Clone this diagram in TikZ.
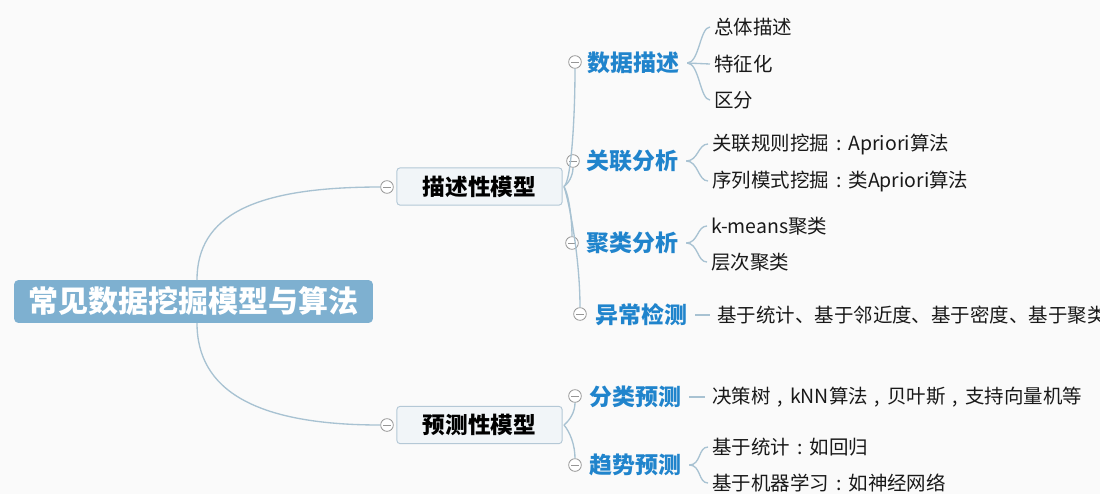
\documentclass[tikz,border=0pt]{standalone}
\usepackage{fontspec}
\setmainfont{Noto Sans CJK SC}
\definecolor{bgC}{RGB}{250,250,250}
\definecolor{rootC}{RGB}{126,176,208}
\definecolor{boxF}{RGB}{241,245,248}
\definecolor{boxB}{RGB}{180,200,214}
\definecolor{topicC}{RGB}{32,132,204}
\definecolor{leafC}{RGB}{25,25,25}
\definecolor{lineC}{RGB}{168,194,210}
\definecolor{foldC}{RGB}{150,150,150}
\newcommand\fcolon{\makebox[1em]{:}}
\newcommand\fcomma{\makebox[1em]{,}}
\begin{document}
\begin{tikzpicture}[x=0.75pt,y=-0.75pt,
  root/.style={fill=rootC, rounded corners=3pt, text=white, font=\bfseries\fontsize{22.5pt}{26pt}\selectfont, minimum width=269pt, minimum height=32pt, inner sep=0pt},
  mbox/.style={draw=boxB, fill=boxF, rounded corners=2.5pt, text=black, font=\bfseries\fontsize{17pt}{20pt}\selectfont, minimum width=124pt, minimum height=28pt, inner sep=0pt, line width=0.7pt},
  topic/.style={anchor=west, text=topicC, font=\bfseries\fontsize{17.2pt}{20pt}\selectfont, inner sep=0pt},
  leaf/.style={anchor=west, text=leafC, font=\fontsize{14.6pt}{17pt}\selectfont, inner sep=0pt},
  fold/.style={circle, draw=foldC, fill=white, minimum size=9.5pt, inner sep=0pt, line width=0.6pt,
    path picture={\draw[foldC, line width=0.6pt] ([xshift=-2.8pt]path picture bounding box.center) -- ([xshift=2.8pt]path picture bounding box.center);}},
  link/.style={draw=lineC, line width=1pt}
]
\useasboundingbox (0,0) rectangle (1100,494);
\fill[bgC] (0,0) rectangle (1100,494);
\clip (0,0) rectangle (1100,494);

% root and main boxes
\node[root] (root) at (193.5,301.5) {常见数据挖掘模型与算法};
\node[mbox] (desc) at (479.5,186.5) {描述性模型};
\node[mbox] (pred) at (479.5,425) {预测性模型};
\node[fold] (fdesc) at (387,187) {};
\node[fold] (fpred) at (387,425) {};

\coordinate (rtop) at (197,280);
\coordinate (rbot) at (197,323);
\draw[link] (rtop) .. controls (197,215) and (255,187) .. (fdesc.west);
\draw[link] (rbot) .. controls (197,390) and (255,425) .. (fpred.west);

% second level
\node[fold] (f1) at (575,62) {};
\node[fold] (f2) at (573,161) {};
\node[fold] (f3) at (572,243) {};
\node[fold] (f4) at (580,314) {};
\node[fold] (f5) at (575,396) {};
\node[fold] (f6) at (575,465) {};

\node[topic] (t1) at (587,63) {数据描述};
\node[topic] (t2) at (586,161) {关联分析};
\node[topic] (t3) at (586,243) {聚类分析};
\node[topic] (t4) at (595,315) {异常检测};
\node[topic] (t5) at (589,397) {分类预测};
\node[topic] (t6) at (589,465) {趋势预测};

\coordinate (dj) at ([xshift=1pt]desc.east);
\coordinate (pj) at ([xshift=1pt]pred.east);
\draw[link] (dj) .. controls (571,182) and (575,120) .. (f1.south);
\draw[link] (dj) .. controls (568,184) and (573,176) .. (f2.south);
\draw[link] (dj) .. controls (569,195) and (572,220) .. (f3.north);
\draw[link] (dj) .. controls (570,205) and (580,260) .. (f4.north);
\draw[link] (pj) .. controls (570,420) and (575,412) .. (f5.south);
\draw[link] (pj) .. controls (570,432) and (575,445) .. (f6.north);

% leaves
\node[leaf] (l11) at (714,27) {总体描述};
\node[leaf] (l12) at (714,64) {特征化};
\node[leaf] (l13) at (714,100) {区分};
\node[leaf] (l21) at (712,144) {关联规则挖掘\fcolon Apriori算法};
\node[leaf] (l22) at (712,181) {序列模式挖掘\fcolon 类Apriori算法};
\node[leaf] (l31) at (711,226) {k-means聚类};
\node[leaf] (l32) at (711,262) {层次聚类};
\node[leaf] (l41) at (717,315) {基于统计、基于邻近度、基于密度、基于聚类};
\node[leaf] (l51) at (712,397) {决策树\fcomma kNN算法\fcomma 贝叶斯\fcomma 支持向量机等};
\node[leaf] (l61) at (712,447) {基于统计\fcolon 如回归};
\node[leaf] (l62) at (712,483) {基于机器学习\fcolon 如神经网络};

\coordinate (j1) at ([xshift=6pt]t1.east);
\coordinate (j2) at ([xshift=6pt]t2.east);
\coordinate (j3) at ([xshift=6pt]t3.east);
\coordinate (j4) at ([xshift=6pt]t4.east);
\coordinate (j5) at ([xshift=6pt]t5.east);
\coordinate (j6) at ([xshift=6pt]t6.east);

\draw[link] (j1) .. controls +(12,0) and +(-10,0) .. ([xshift=-3pt]l11.west);
\draw[link] (j1) -- ([xshift=-3pt]l12.west);
\draw[link] (j1) .. controls +(12,0) and +(-10,0) .. ([xshift=-3pt]l13.west);
\draw[link] (j2) .. controls +(12,0) and +(-10,0) .. ([xshift=-3pt]l21.west);
\draw[link] (j2) .. controls +(12,0) and +(-10,0) .. ([xshift=-3pt]l22.west);
\draw[link] (j3) .. controls +(12,0) and +(-10,0) .. ([xshift=-3pt]l31.west);
\draw[link] (j3) .. controls +(12,0) and +(-10,0) .. ([xshift=-3pt]l32.west);
\draw[link] (j4) -- ([xshift=-5pt]l41.west);
\draw[link] (j5) -- ([xshift=-5pt]l51.west);
\draw[link] (j6) .. controls +(12,0) and +(-10,0) .. ([xshift=-3pt]l61.west);
\draw[link] (j6) .. controls +(12,0) and +(-10,0) .. ([xshift=-3pt]l62.west);
\end{tikzpicture}
\end{document}
